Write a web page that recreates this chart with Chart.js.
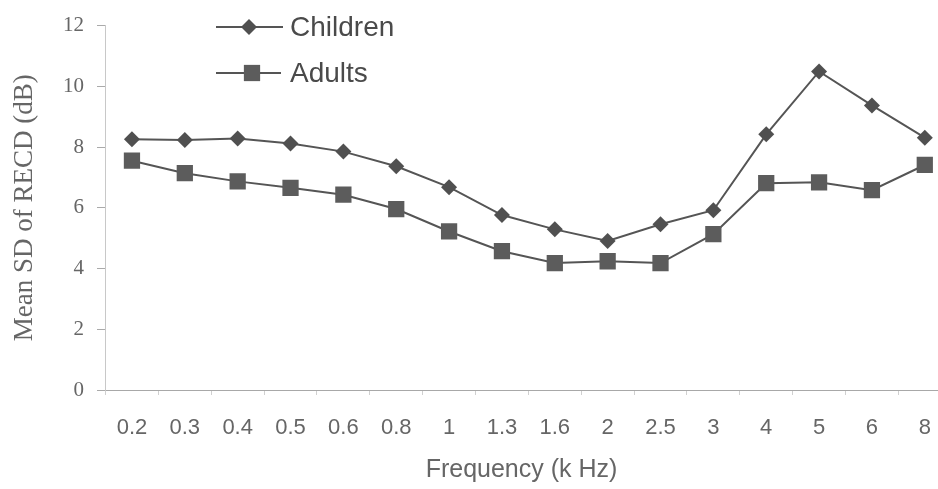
<!DOCTYPE html>
<html>
<head>
<meta charset="utf-8">
<script src="https://cdn.jsdelivr.net/npm/chart.js@4.4.0/dist/chart.umd.min.js"></script>
<style>
  html, body { margin: 0; padding: 0; background: #fff; }
  #wrap { width: 938px; height: 489px; }
</style>
</head>
<body>
<div id="wrap"><canvas id="chart"></canvas></div>
<script>
// data
const freqLabels = ["0.2", "0.3", "0.4", "0.5", "0.6", "0.8", "1", "1.3", "1.6", "2", "2.5", "3", "4", "5", "6", "8"];
const children = [8.26, 8.23, 8.28, 8.12, 7.85, 7.37, 6.68, 5.76, 5.29, 4.91, 5.46, 5.92, 8.42, 10.49, 9.37, 8.31];
const adults = [7.55, 7.14, 6.87, 6.66, 6.43, 5.96, 5.22, 4.57, 4.18, 4.24, 4.18, 5.13, 6.81, 6.84, 6.58, 7.41];
const yTicks = [0, 2, 4, 6, 8, 10, 12];

const lineColor = "#555";
const textColor = "#666";
const axisColor = "#a8a8a8";

function toPoints(values) {
  return values.map((v, i) => ({ x: i, y: v }));
}

// legend drawn inside the plot, top left
const insideLegend = {
  id: "insideLegend",
  afterDraw(chart) {
    const ctx = chart.ctx;
    const rows = [
      { y: 27, x1: 216, x2: 283, mx: 249 },
      { y: 73, x1: 216, x2: 281, mx: 252 }
    ];
    chart.data.datasets.forEach((ds, i) => {
      const r = rows[i];
      ctx.save();
      ctx.strokeStyle = ds.borderColor;
      ctx.lineWidth = ds.borderWidth;
      ctx.beginPath();
      ctx.moveTo(r.x1, r.y);
      ctx.lineTo(r.x2, r.y);
      ctx.stroke();
      ctx.fillStyle = ds.pointBackgroundColor;
      ctx.beginPath();
      if (ds.pointStyle === "rectRot") {
        const s = ds.pointRadius;
        ctx.moveTo(r.mx - s, r.y);
        ctx.lineTo(r.mx, r.y - s);
        ctx.lineTo(r.mx + s, r.y);
        ctx.lineTo(r.mx, r.y + s);
        ctx.closePath();
      } else {
        const h = ds.pointRadius * Math.SQRT1_2;
        ctx.rect(r.mx - h, r.y - h, 2 * h, 2 * h);
      }
      ctx.fill();
      ctx.fillStyle = "#4a4a4a";
      ctx.font = "28px 'Liberation Sans', Arial, sans-serif";
      ctx.textBaseline = "middle";
      ctx.fillText(ds.label, 290, r.y + 1);
      ctx.restore();
    });
  }
};

const chart = new Chart("chart", {
  type: "line",
  data: {
    datasets: [
      {
        label: "Children",
        data: toPoints(children),
        borderColor: lineColor,
        borderWidth: 2,
        pointStyle: "rectRot",
        pointRadius: 8,
        pointBorderWidth: 0,
        pointBackgroundColor: "#505050",
        lineTension: 0,
        fill: false
      },
      {
        label: "Adults",
        data: toPoints(adults),
        borderColor: lineColor,
        borderWidth: 2,
        pointStyle: "rect",
        pointRadius: 11.5,
        pointBorderWidth: 0,
        pointBackgroundColor: "#5c5c5c",
        lineTension: 0,
        fill: false
      }
    ]
  },
  options: {
    responsive: true,
    maintainAspectRatio: false,
    animation: false,
    devicePixelRatio: 1,
    layout: { autoPadding: false, padding: { top: 22, right: 0, left: 0, bottom: 0 } },
    plugins: {
      legend: { display: false },
      tooltip: { enabled: false }
    },
    scales: {
      x: {
        type: "linear",
        min: -0.51,
        max: 15.25,
        afterBuildTicks(scale) {
          const ticks = [];
          for (let i = 0; i < freqLabels.length; i++) {
            ticks.push({ value: i - 0.5 });
            ticks.push({ value: i });
          }
          scale.ticks = ticks;
        },
        afterFit(scale) { scale.height = 99; },
        border: { display: true, color: axisColor, width: 1 },
        grid: {
          drawOnChartArea: false,
          drawTicks: true,
          tickLength: 5,
          tickColor: (ctx) => (ctx.tick && Number.isInteger(ctx.tick.value)) ? "rgba(0,0,0,0)" : "#d0d0d0"
        },
        ticks: {
          autoSkip: false,
          maxRotation: 0,
          padding: 0,
          color: textColor,
          font: { family: "'Liberation Sans', Arial, sans-serif", size: 22, lineHeight: 3.0 },
          callback: (v) => Number.isInteger(v) ? freqLabels[v] : ""
        },
        title: {
          display: true,
          text: "Frequency (k Hz)",
          color: textColor,
          font: { family: "'Liberation Sans', Arial, sans-serif", size: 25 },
          padding: { top: 0, bottom: 4 }
        }
      },
      y: {
        min: 0,
        max: 12,
        afterBuildTicks(scale) {
          scale.ticks = yTicks.map((v) => ({ value: v }));
        },
        afterFit(scale) { scale.width = 105; },
        border: { display: true, color: "#c8c8c8", width: 1 },
        grid: {
          drawOnChartArea: false,
          drawTicks: true,
          tickLength: 8,
          tickColor: "#aaa"
        },
        ticks: {
          padding: 13,
          color: textColor,
          font: { family: "'Liberation Serif', 'Times New Roman', serif", size: 21 }
        },
        title: {
          display: true,
          text: "Mean SD of RECD (dB)",
          color: textColor,
          font: { family: "'Liberation Serif', 'Times New Roman', serif", size: 27 },
          padding: { top: 9, bottom: 0 }
        }
      }
    }
  },
  plugins: [insideLegend]
});
</script>
</body>
</html>
